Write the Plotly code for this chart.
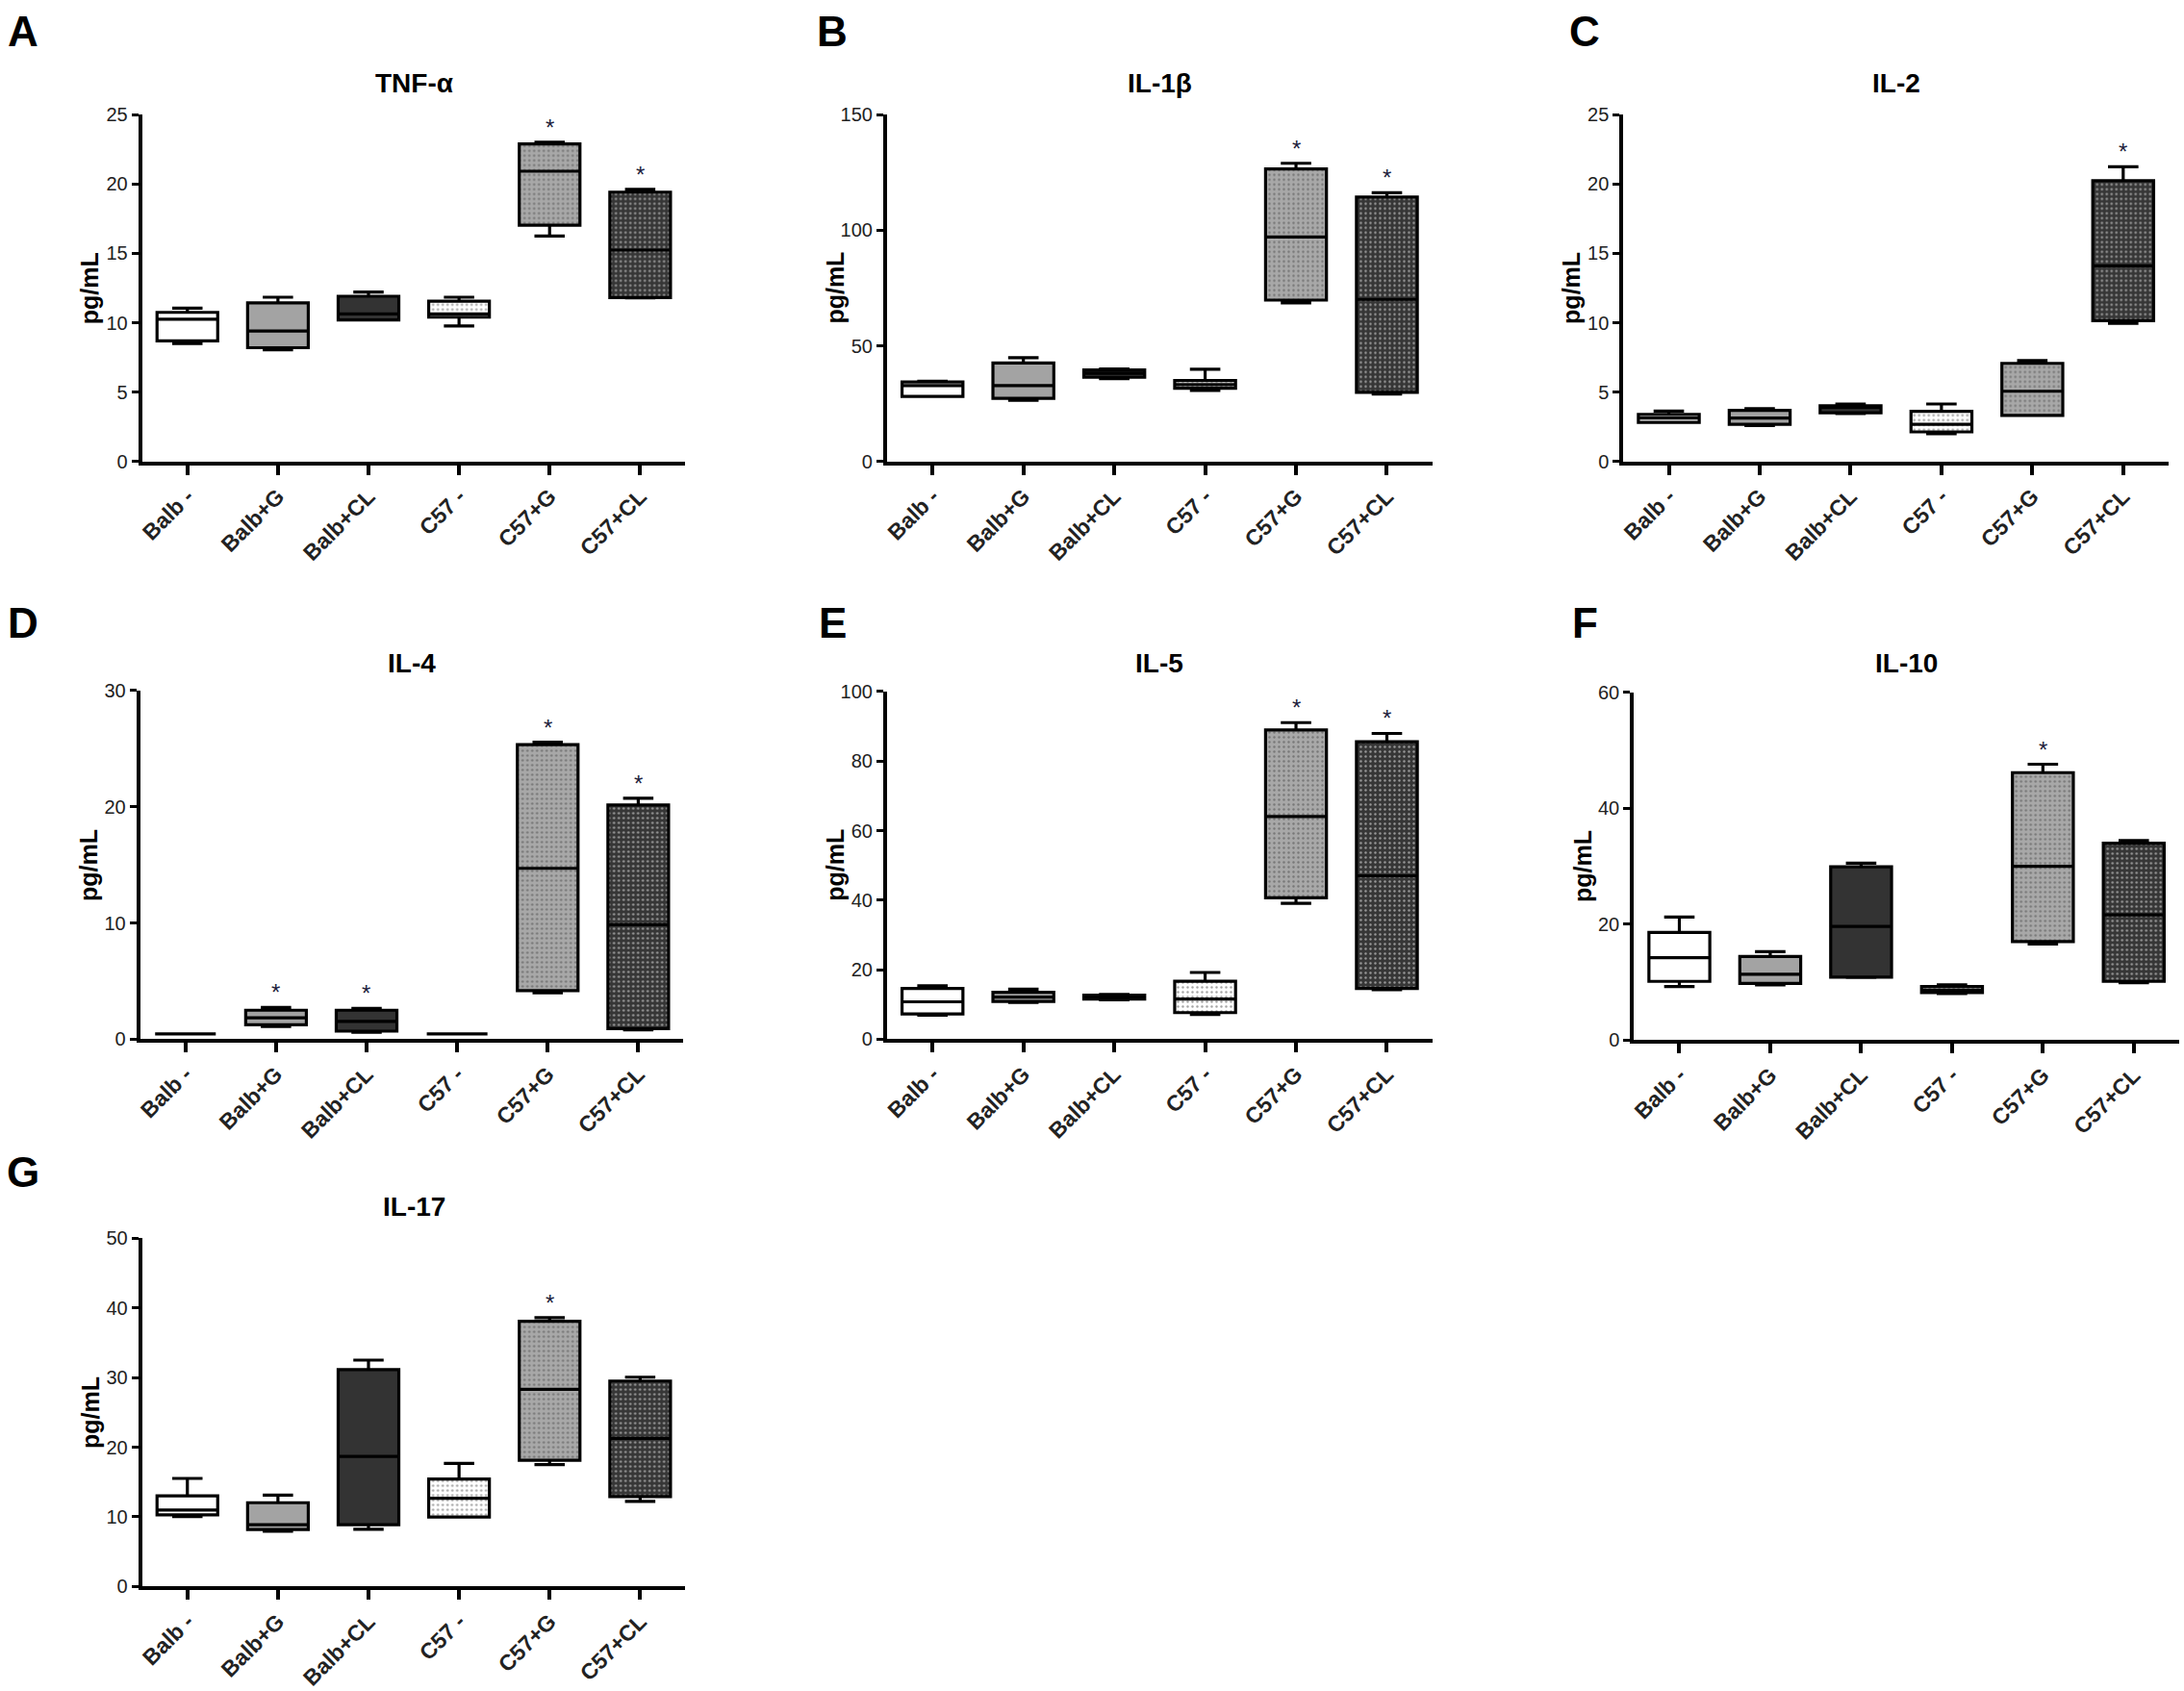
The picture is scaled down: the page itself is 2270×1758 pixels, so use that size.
import plotly.graph_objects as go

W, H = 2270, 1758

groups = ["Balb -", "Balb+G", "Balb+CL", "C57 -", "C57+G", "C57+CL"]

# TNF-alpha
tnf_min = [8.5, 8.05, 10.2, 9.77, 16.25, 11.8]
tnf_q1 = [8.7, 8.2, 10.2, 10.4, 17.03, 11.81]
tnf_med = [10.25, 9.4, 10.63, 10.63, 20.93, 15.24]
tnf_q3 = [10.75, 11.44, 11.91, 11.56, 22.9, 19.42]
tnf_max = [11.05, 11.84, 12.22, 11.84, 23.02, 19.62]
tnf_star = [0, 0, 0, 0, 1, 1]

# IL-1beta
il1_min = [28.1, 26.4, 35.8, 30.7, 68.6, 29.2]
il1_q1 = [28.1, 27.3, 36.4, 31.7, 69.8, 29.9]
il1_med = [32.8, 32.8, 38.1, 33.2, 97.1, 70.1]
il1_q3 = [34.4, 42.6, 39.6, 35.0, 126.6, 114.4]
il1_max = [34.7, 44.9, 40.0, 39.9, 129.0, 116.3]
il1_star = [0, 0, 0, 0, 1, 1]

# IL-2
il2_min = [2.81, 2.58, 3.46, 2.0, 3.31, 9.95]
il2_q1 = [2.81, 2.68, 3.51, 2.13, 3.31, 10.15]
il2_med = [3.13, 3.13, 3.88, 2.68, 5.06, 14.11]
il2_q3 = [3.38, 3.68, 4.01, 3.61, 7.07, 20.25]
il2_max = [3.63, 3.81, 4.14, 4.14, 7.27, 21.25]
il2_star = [0, 0, 0, 0, 0, 1]

# IL-4
il4_min = [0.45, 1.08, 0.6, 0.45, 3.99, 0.81]
il4_q1 = [0.45, 1.23, 0.69, 0.45, 4.17, 0.9]
il4_med = [0.45, 1.83, 1.53, 0.45, 14.7, 9.84]
il4_q3 = [0.45, 2.49, 2.49, 0.45, 25.35, 20.16]
il4_max = [0.45, 2.73, 2.64, 0.45, 25.56, 20.73]
il4_star = [0, 1, 1, 0, 1, 1]

# IL-5
il5_min = [6.93, 10.54, 11.35, 7.13, 39.06, 14.26]
il5_q1 = [7.23, 10.84, 11.55, 7.63, 40.66, 14.56]
il5_med = [10.74, 12.1, 12.15, 11.55, 64.06, 46.99]
il5_q3 = [14.56, 13.45, 12.65, 16.67, 88.96, 85.54]
il5_max = [15.36, 14.36, 12.85, 19.18, 91.06, 87.95]
il5_star = [0, 0, 0, 0, 1, 1]

# IL-10
il10_min = [9.23, 9.54, 10.8, 8.03, 16.6, 9.9]
il10_q1 = [10.14, 9.78, 10.86, 8.21, 17.02, 10.14]
il10_med = [14.24, 11.35, 19.61, 8.63, 29.99, 21.6]
il10_q3 = [18.59, 14.42, 29.93, 9.23, 46.17, 33.98]
il10_max = [21.24, 15.27, 30.54, 9.54, 47.62, 34.46]
il10_star = [0, 0, 0, 0, 1, 0]

# IL-17
il17_min = [10.03, 7.93, 8.23, 9.98, 17.51, 12.23]
il17_q1 = [10.28, 8.18, 8.88, 9.98, 18.11, 12.92]
il17_med = [10.98, 8.88, 18.66, 12.67, 28.29, 21.26]
il17_q3 = [13.02, 12.03, 31.14, 15.42, 38.07, 29.49]
il17_max = [15.52, 13.12, 32.49, 17.66, 38.57, 30.04]
il17_star = [0, 0, 0, 0, 1, 0]

# group styling (Prism-like fills, dotted pattern for C57 groups)
fills = ["white", "#a3a3a3", "#333333", "white", "#a8a8a8", "#363636"]
shapes = ["", "", "", ".", ".", "."]
dots = ["black", "black", "black", "#222222", "white", "white"]

# panel layout in pixels: (letter, title, data, ymax, dtick, x0, x1, y_top, y_bottom, letter_x, letter_y, title_y)
panels = [
    ("A", "TNF-\u03b1", (tnf_min, tnf_q1, tnf_med, tnf_q3, tnf_max, tnf_star), 25, 5,
     143, 709, 110, 476, 19, 22, 77),
    ("B", "IL-1\u03b2", (il1_min, il1_q1, il1_med, il1_q3, il1_max, il1_star), 150, 50,
     919, 1487, 110, 476, 862, 22, 77),
    ("C", "IL-2", (il2_min, il2_q1, il2_med, il2_q3, il2_max, il2_star), 25, 5,
     1686, 2254, 110, 476, 1646, 22, 77),
    ("D", "IL-4", (il4_min, il4_q1, il4_med, il4_q3, il4_max, il4_star), 30, 10,
     141, 707, 718, 1086, 19, 646, 689),
    ("E", "IL-5", (il5_min, il5_q1, il5_med, il5_q3, il5_max, il5_star), 100, 20,
     919, 1487, 719, 1086, 862, 646, 689),
    ("F", "IL-10", (il10_min, il10_q1, il10_med, il10_q3, il10_max, il10_star), 60, 20,
     1697, 2265, 720, 1087, 1646, 646, 689),
    ("G", "IL-17", (il17_min, il17_q1, il17_med, il17_q3, il17_max, il17_star), 50, 10,
     143, 709, 1296, 1664, 19, 1226, 1263),
]

ARIAL = "Liberation Sans, Arial, sans-serif"

fig = go.Figure()
annotations = []
layout_axes = {}

for i, (letter, title, data, ymax, dtick, x0, x1, yt, yb, lx, ly, ty) in enumerate(panels):
    lo, q1, med, q3, hi, star = data
    n = "" if i == 0 else str(i + 1)
    xa, ya = "x" + n, "y" + n

    # box fill (with dotted pattern) as floating bars from q1 to q3
    fig.add_trace(go.Bar(
        x=groups, y=[b - a for a, b in zip(q1, q3)], base=q1,
        xaxis=xa, yaxis=ya, width=0.67,
        marker=dict(color=fills, line=dict(width=0),
                    pattern=dict(shape=shapes, fgcolor=dots, size=5,
                                 solidity=0.18, fillmode="overlay")),
        hoverinfo="skip", showlegend=False))

    # box outline, median and min-max whiskers
    fig.add_trace(go.Box(
        x=groups, q1=q1, median=med, q3=q3, lowerfence=lo, upperfence=hi,
        xaxis=xa, yaxis=ya, width=0.67, whiskerwidth=0.5,
        fillcolor="rgba(0,0,0,0)", line=dict(color="black", width=3.2),
        boxpoints=False, showlegend=False))

    layout_axes["xaxis" + n] = dict(
        domain=[x0 / W, x1 / W], anchor=ya, type="category",
        categoryorder="array", categoryarray=groups, range=[-0.5, 5.5],
        showline=True, linecolor="black", linewidth=4,
        ticks="outside", ticklen=10, tickwidth=4, tickcolor="black",
        tickangle=-45, showgrid=False, zeroline=False,
        tickfont=dict(family=ARIAL, size=23, color="#222222", weight="bold"))
    layout_axes["yaxis" + n] = dict(
        domain=[1 - yb / H, 1 - yt / H], anchor=xa, range=[0, ymax],
        dtick=dtick, tick0=0, showline=True, linecolor="black", linewidth=4,
        ticks="outside", ticklen=7, tickwidth=3, tickcolor="black",
        showgrid=False, zeroline=False,
        tickfont=dict(family="Liberation Sans Narrow, " + ARIAL, size=20, color="#222222"))

    annotations.append(dict(
        text="<b>%s</b>" % letter, x=lx / W, y=1 - ly / H, xref="paper", yref="paper",
        showarrow=False, xanchor="center", yanchor="middle",
        font=dict(family=ARIAL, size=44, color="black")))
    annotations.append(dict(
        text="<b>%s</b>" % title, x=(x0 + x1) / 2 / W, y=1 - ty / H, xref="paper", yref="paper",
        showarrow=False, xanchor="center", yanchor="middle",
        font=dict(family=ARIAL, size=28, color="black")))
    annotations.append(dict(
        text="<b>pg/mL</b>", x=(x0 - 54) / W, y=1 - (yt + yb) / 2 / H, xref="paper", yref="paper",
        showarrow=False, textangle=-90, xanchor="center", yanchor="middle",
        font=dict(family=ARIAL, size=25, color="black")))

    for g, s, top in zip(groups, star, hi):
        if s:
            annotations.append(dict(
                text="*", x=g, y=top, xref=xa, yref=ya, showarrow=False,
                xanchor="center", yanchor="bottom", yshift=0,
                font=dict(family=ARIAL, size=24, color="#1e1e3c")))

fig.update_layout(
    width=W, height=H, margin=dict(l=0, r=0, t=0, b=0),
    paper_bgcolor="white", plot_bgcolor="white",
    showlegend=False, barmode="overlay", boxmode="overlay",
    annotations=annotations, **layout_axes)

# drop the default 8px page margin so the figure fills the window exactly
fig.write_html("out.html", config={"displayModeBar": False},
               post_script="document.body.style.margin='0px';")
